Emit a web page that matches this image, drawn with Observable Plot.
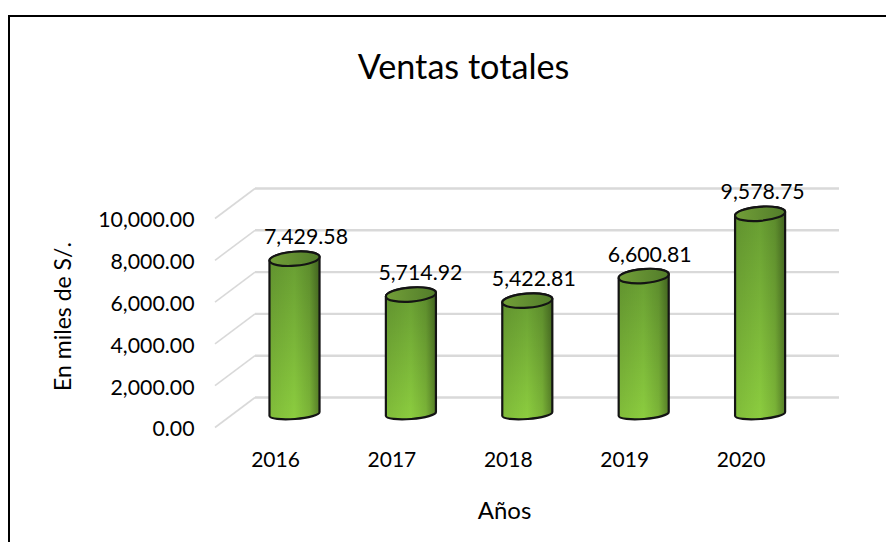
<!DOCTYPE html>
<html lang="es">
<head>
<meta charset="utf-8">
<script src="https://cdn.jsdelivr.net/npm/d3@7"></script>
<script src="https://cdn.jsdelivr.net/npm/@observablehq/plot@0.6"></script>
<style>
  html, body { margin: 0; padding: 0; background: #fff; }
  #chart { position: relative; width: 886px; height: 542px; overflow: hidden; }
  #border { position: absolute; left: 8px; top: 15px; right: -10px; bottom: -10px;
            border-left: 2.5px solid #000; border-top: 2.5px solid #000; }
  #title { position: absolute; left: 0; top: 44px; width: 927px; text-align: center;
           font: 34.2px Lato, sans-serif; line-height: 44px; color: #000; }
  svg { position: absolute; left: 0; top: 0; font-family: Lato, sans-serif; }
</style>
</head>
<body>
<div id="chart">
  <div id="title">Ventas totales</div>
  <div id="border"></div>
</div>
<script>
const years = ["2016", "2017", "2018", "2019", "2020"];
const sales = [7429.58, 5714.92, 5422.81, 6600.81, 9578.75];
const yTicks = [0, 2000, 4000, 6000, 8000, 10000];
const xLabel = "Años";
const yLabel = "En miles de S/.";

const rows = years.map((year, i) => ({year, value: sales[i]}));
const fmt = d3.format(",.2f");

// Depth offsets of the pseudo-3D chart (pixels, not data)
const wallDx = 40, wallDy = -30, barDx = 19.5, barDy = -13;
const labelNudge = [11, 9, 6, 5.5, 2];

const defs = () => {
  const d = d3.create("svg:defs");
  const v = d.append("linearGradient").attr("id", "cylV").attr("x1", 0).attr("x2", 0).attr("y1", 0).attr("y2", 1);
  v.append("stop").attr("offset", 0).attr("stop-color", "#679c32");
  v.append("stop").attr("offset", 1).attr("stop-color", "#8ccd3f");
  const h = d.append("linearGradient").attr("id", "cylH");
  h.append("stop").attr("offset", 0).attr("stop-color", "#000").attr("stop-opacity", 0.08);
  h.append("stop").attr("offset", 0.5).attr("stop-color", "#000").attr("stop-opacity", 0);
  h.append("stop").attr("offset", 0.8).attr("stop-color", "#000").attr("stop-opacity", 0.12);
  h.append("stop").attr("offset", 1).attr("stop-color", "#000").attr("stop-opacity", 0.38);
  const t = d.append("linearGradient").attr("id", "cylT");
  t.append("stop").attr("offset", 0).attr("stop-color", "#729f38");
  t.append("stop").attr("offset", 1).attr("stop-color", "#527c2a");
  return d.node();
};

// Turn each bar's rectangle into a tilted cylinder
function cylinder(index, scales, values, dims, ctx, next) {
  const g = next(index, scales, values, dims, ctx);
  const ns = "http://www.w3.org/2000/svg";
  g.querySelectorAll("rect").forEach(r => {
    const x = +r.getAttribute("x"), y = +r.getAttribute("y");
    const w = +r.getAttribute("width"), h = +r.getAttribute("height");
    const rx = w / 2, ry = 7, ryB = 5, rot = -4.5, lift = 2;
    const xL = x, xR = x + w, yB = y + h;
    const arc = (k, sweep, px, py) => `A${rx} ${k} ${rot} 0 ${sweep} ${px} ${py}`;
    const body = `M${xL} ${y + lift}L${xL} ${yB + lift}${arc(ryB, 0, xR, yB - lift)}L${xR} ${y - lift}${arc(ry, 0, xL, y + lift)}Z`;
    const top = `M${xL} ${y + lift}${arc(ry, 0, xR, y - lift)}${arc(ry, 0, xL, y + lift)}Z`;
    const add = (d, fill, stroke) => {
      const p = document.createElementNS(ns, "path");
      p.setAttribute("d", d);
      p.setAttribute("fill", fill);
      if (stroke) { p.setAttribute("stroke", "#141414"); p.setAttribute("stroke-width", 2.2); }
      g.insertBefore(p, r);
    };
    add(body, "url(#cylV)");
    add(body, "url(#cylH)", true);
    add(top, "url(#cylT)", true);
    r.remove();
  });
  return g;
}

// Slanted floor/wall connectors of the left side
function slanted(index, scales, values, dims, ctx, next) {
  const g = next(index, scales, values, dims, ctx);
  g.querySelectorAll("line").forEach(l => {
    l.setAttribute("x2", +l.getAttribute("x1") + wallDx);
    l.setAttribute("y2", +l.getAttribute("y1") + wallDy);
  });
  return g;
}

const plot = Plot.plot({
  width: 886,
  height: 542,
  marginLeft: 215,
  marginRight: 87,
  marginTop: 218,
  marginBottom: 115,
  style: {background: "transparent", fontFamily: "Lato, sans-serif", fontSize: "21.3px", color: "#000", overflow: "visible"},
  x: {domain: years, range: [216.8, 798.8], paddingInner: 0.57, paddingOuter: 0.285, round: false, label: null},
  y: {domain: [0, 10000], label: null},
  marks: [
    defs,
    Plot.ruleY(yTicks, {stroke: "#d9d9d9", strokeWidth: 1.6, render: slanted}),
    Plot.ruleY(yTicks, {stroke: "#d9d9d9", strokeWidth: 2.4, dx: wallDx, dy: wallDy}),
    Plot.barY(rows, {x: "year", y: "value", dx: barDx, dy: barDy, render: cylinder}),
    rows.map((d, i) => Plot.text([d], {
      x: "year", y: "value", text: v => fmt(v.value),
      dx: barDx + labelNudge[i], dy: barDy - 15,
      lineAnchor: "bottom", fontSize: 21.3, fill: "#000"
    })),
    Plot.axisY(yTicks, {
      anchor: "left", tickSize: 0, tickPadding: 21, tickFormat: fmt, fontSize: 21.3, dy: 2, label: null
    }),
    Plot.axisX(years, {
      anchor: "bottom", tickSize: 0, tickPadding: 25, fontSize: 21, label: null
    }),
    Plot.text([yLabel], {frameAnchor: "left", textAnchor: "middle", lineAnchor: "middle", rotate: -90, dx: -152, dy: -6.5, fontSize: 23, fill: "#000"}),
    Plot.text([xLabel], {frameAnchor: "bottom", textAnchor: "middle", lineAnchor: "bottom", dx: -3, dy: 91, fontSize: 24, fill: "#000"})
  ]
});
document.getElementById("chart").appendChild(plot);
</script>
</body>
</html>
